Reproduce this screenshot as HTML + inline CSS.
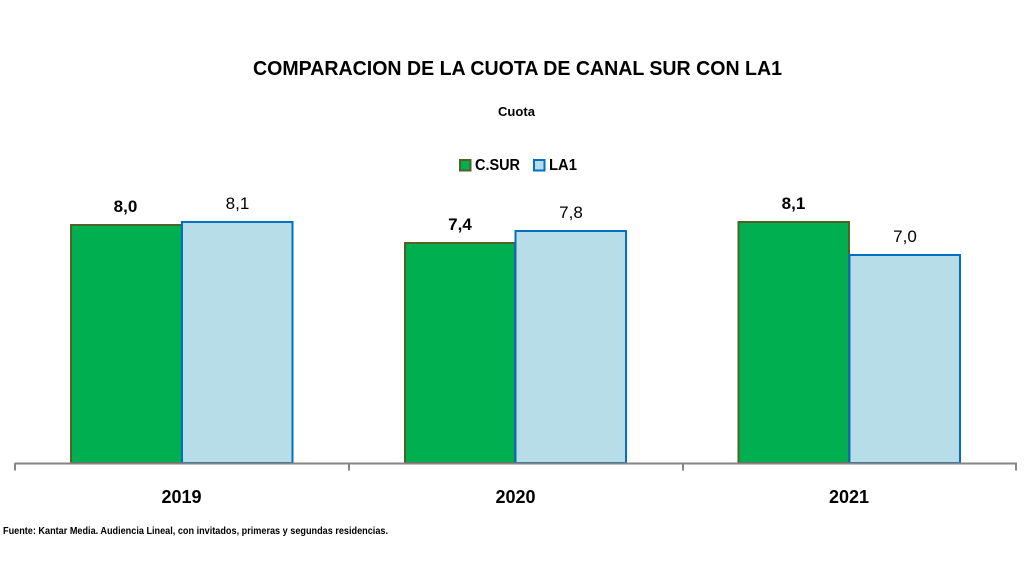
<!DOCTYPE html>
<html>
<head>
<meta charset="utf-8">
<style>
  html, body { margin: 0; padding: 0; background: #ffffff; }
  svg { display: block; }
  text { font-family: "Liberation Sans", "DejaVu Sans", sans-serif; fill: #000; }
</style>
</head>
<body>
<svg width="1024" height="576" viewBox="0 0 1024 576" xmlns="http://www.w3.org/2000/svg">
  <rect x="0" y="0" width="1024" height="576" fill="#ffffff"/>

  <!-- Title -->
  <text x="253" y="75" font-size="20" font-weight="bold" textLength="529" lengthAdjust="spacingAndGlyphs">COMPARACION DE LA CUOTA DE CANAL SUR CON LA1</text>
  <text x="498" y="116" font-size="12.5" font-weight="bold" textLength="37" lengthAdjust="spacingAndGlyphs">Cuota</text>

  <!-- Legend -->
  <rect x="460" y="160" width="10.5" height="10.5" fill="#00B050" stroke="#4F6228" stroke-width="2"/>
  <text x="475" y="170" font-size="15.5" font-weight="bold" textLength="45" lengthAdjust="spacingAndGlyphs">C.SUR</text>
  <rect x="534" y="160" width="10.5" height="10.5" fill="#B7DEE8" stroke="#0070C0" stroke-width="2"/>
  <text x="549" y="170" font-size="15.5" font-weight="bold" textLength="28" lengthAdjust="spacingAndGlyphs">LA1</text>

  <!-- Bars 2019 -->
  <rect x="71" y="225" width="111" height="238" fill="#00B050" stroke="#4F6228" stroke-width="2"/>
  <rect x="182" y="222" width="110.5" height="241" fill="#B7DEE8" stroke="#0070C0" stroke-width="2"/>
  <!-- Bars 2020 -->
  <rect x="405" y="243" width="110" height="220" fill="#00B050" stroke="#4F6228" stroke-width="2"/>
  <rect x="515.5" y="231" width="110.5" height="232" fill="#B7DEE8" stroke="#0070C0" stroke-width="2"/>
  <!-- Bars 2021 -->
  <rect x="738.5" y="222" width="110.5" height="241" fill="#00B050" stroke="#4F6228" stroke-width="2"/>
  <rect x="849.5" y="255" width="110.5" height="208" fill="#B7DEE8" stroke="#0070C0" stroke-width="2"/>

  <!-- Value labels -->
  <text x="125.5" y="212" font-size="17" font-weight="bold" text-anchor="middle">8,0</text>
  <text x="237.5" y="209" font-size="17" text-anchor="middle">8,1</text>
  <text x="460" y="230" font-size="17" font-weight="bold" text-anchor="middle">7,4</text>
  <text x="571" y="218" font-size="17" text-anchor="middle">7,8</text>
  <text x="793.5" y="209" font-size="17" font-weight="bold" text-anchor="middle">8,1</text>
  <text x="905" y="242" font-size="17" text-anchor="middle">7,0</text>

  <!-- Axis -->
  <line x1="15" y1="463.5" x2="1017" y2="463.5" stroke="#868686" stroke-width="2"/>
  <line x1="15" y1="463" x2="15" y2="470.5" stroke="#868686" stroke-width="2"/>
  <line x1="349" y1="463" x2="349" y2="470.5" stroke="#868686" stroke-width="2"/>
  <line x1="683" y1="463" x2="683" y2="470.5" stroke="#868686" stroke-width="2"/>
  <line x1="1016" y1="463" x2="1016" y2="470.5" stroke="#868686" stroke-width="2"/>

  <!-- Category labels -->
  <text x="181.5" y="503" font-size="18" font-weight="bold" text-anchor="middle">2019</text>
  <text x="515.5" y="503" font-size="18" font-weight="bold" text-anchor="middle">2020</text>
  <text x="849" y="503" font-size="18" font-weight="bold" text-anchor="middle">2021</text>

  <!-- Footnote -->
  <text x="3" y="534" font-size="10.5" font-weight="bold" textLength="385" lengthAdjust="spacingAndGlyphs">Fuente: Kantar Media. Audiencia Lineal, con invitados, primeras y segundas residencias.</text>
</svg>
</body>
</html>
